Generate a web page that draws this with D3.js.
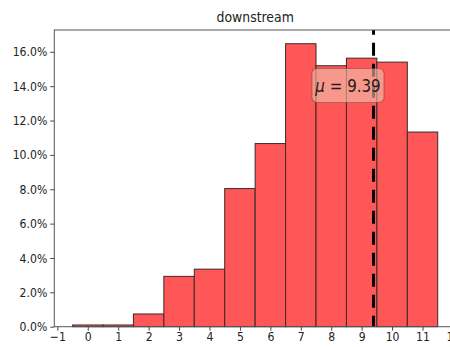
<!DOCTYPE html>
<html>
<head>
<meta charset="utf-8">
<script src="https://cdn.jsdelivr.net/npm/d3@7"></script>
<style>
  html, body { margin: 0; padding: 0; background: #fff; overflow: hidden; }
  svg { display: block; }
  text { font-family: "DejaVu Sans", sans-serif; }
</style>
</head>
<body>
<svg id="chart" width="450" height="347"></svg>
<script>
// Histogram of downstream values: one bin per integer, share of observations in percent.
const binCenters = [0, 1, 2, 3, 4, 5, 6, 7, 8, 9, 10, 11];
const binShares = [0.1, 0.1, 0.74, 2.93, 3.35, 8.04, 10.66, 16.47, 15.19, 15.63, 15.4, 11.33];
const meanValue = 9.39;
const xTicks = [-1, 0, 1, 2, 3, 4, 5, 6, 7, 8, 9, 10, 11, 12];
const yTicks = [0, 2, 4, 6, 8, 10, 12, 14, 16];
const chartTitle = "downstream";

const svg = d3.select("#chart");
const plotLeft = 54.3, plotRight = 456, plotTop = 30, plotBottom = 326.7;
const textScale = "scale(1.04,1.2)";

const x = d3.scaleLinear().domain([-1.1, 12.1]).range([plotLeft, plotRight]);
const y = d3.scaleLinear().domain([0, 17.27]).range([plotBottom, plotTop]);

// bars
svg.append("g")
  .selectAll("rect")
  .data(binCenters)
  .join("rect")
  .attr("x", (d) => x(d - 0.5))
  .attr("y", (d, i) => y(binShares[i]))
  .attr("width", (d) => x(d + 0.5) - x(d - 0.5))
  .attr("height", (d, i) => y(0) - y(binShares[i]))
  .attr("fill", "#ff5757")
  .attr("stroke", "#3a2a2a")
  .attr("stroke-width", 1);

// mean line
svg.append("line")
  .attr("x1", x(meanValue)).attr("x2", x(meanValue))
  .attr("y1", plotBottom).attr("y2", plotTop)
  .attr("stroke", "#000")
  .attr("stroke-width", 3)
  .attr("stroke-dasharray", "13,8")
  .attr("stroke-dashoffset", 2);

// axes
const fmt = (d) => d.toFixed(1) + "%";
const yAxis = svg.append("g")
  .attr("transform", `translate(${plotLeft},0)`)
  .call(d3.axisLeft(y).tickValues(yTicks).tickFormat(fmt).tickSize(4).tickPadding(3));
const xAxis = svg.append("g")
  .attr("transform", `translate(0,${plotBottom})`)
  .call(d3.axisBottom(x).tickValues(xTicks).tickFormat((d) => d < 0 ? "\u2212" + Math.abs(d) : d).tickSize(4).tickPadding(2));

[yAxis, xAxis].forEach((g) => {
  g.select(".domain").remove();
  g.selectAll(".tick line").attr("stroke", "#444");
  g.selectAll(".tick text")
    .attr("font-size", 10.5)
    .attr("fill", "#222")
    .attr("font-family", "DejaVu Sans, sans-serif");
});
yAxis.selectAll(".tick text").attr("transform", textScale).attr("x", -7 / 1.04).attr("dy", "0.32em");
xAxis.selectAll(".tick text").attr("transform", textScale).attr("y", 5 / 1.2).attr("dy", "0.71em");

// spines
svg.append("rect")
  .attr("x", plotLeft).attr("y", plotTop)
  .attr("width", plotRight - plotLeft).attr("height", plotBottom - plotTop)
  .attr("fill", "none")
  .attr("stroke", "#555")
  .attr("stroke-width", 1);

// title
svg.append("text")
  .attr("transform", `translate(${(plotLeft + plotRight) / 2},${22}) ${textScale}`)
  .attr("text-anchor", "middle")
  .attr("font-size", 12)
  .attr("fill", "#222")
  .text(chartTitle);

// mean annotation box
const ann = svg.append("g").attr("transform", `translate(${348},${85.5})`);
ann.append("rect")
  .attr("x", -36).attr("y", -17).attr("width", 72).attr("height", 34)
  .attr("rx", 5).attr("ry", 5)
  .attr("fill", "rgba(240,195,175,0.6)")
  .attr("stroke", "rgba(120,60,50,0.45)")
  .attr("stroke-width", 1.2);
const label = ann.append("text")
  .attr("transform", textScale)
  .attr("text-anchor", "middle")
  .attr("dy", "0.36em")
  .attr("font-size", 14.5)
  .attr("fill", "#2a1a1a");
label.append("tspan").attr("font-style", "italic").text("\u03bc");
label.append("tspan").text(" = " + meanValue.toFixed(2));
</script>
</body>
</html>
